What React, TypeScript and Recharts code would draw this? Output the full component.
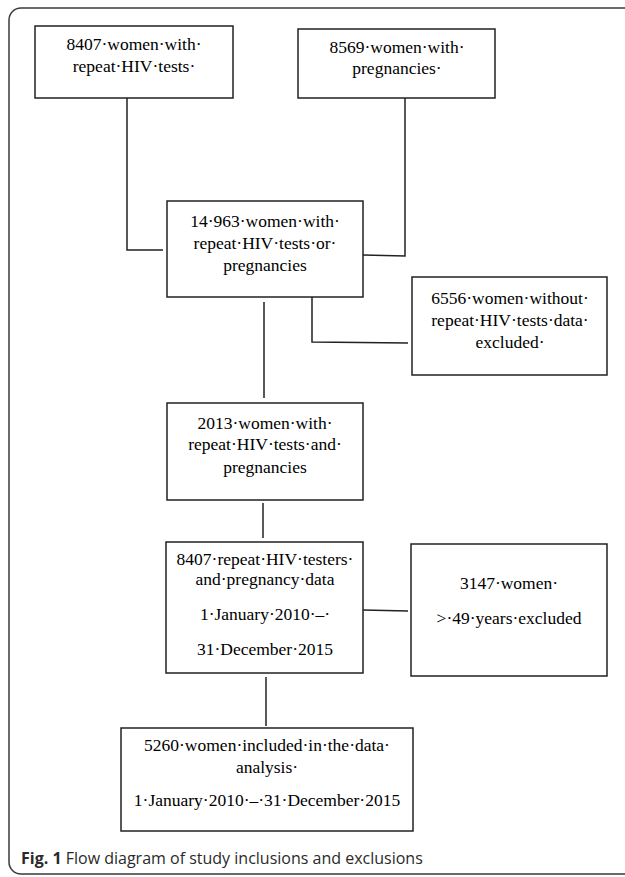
import {
  ComposedChart,
  Line,
  ReferenceArea,
  Scatter,
  XAxis,
  YAxis,
} from "recharts";

// text of each box, one string per printed line
const box1Text = ["8407·women·with·", "repeat·HIV·tests·"];
const box2Text = ["8569·women·with·", "pregnancies·"];
const box3Text = ["14·963·women·with·", "repeat·HIV·tests·or·", "pregnancies"];
const excl1Text = ["6556·women·without·", "repeat·HIV·tests·data·", "excluded·"];
const box4Text = ["2013·women·with·", "repeat·HIV·tests·and·", "pregnancies"];
const box5Text = [
  "8407·repeat·HIV·testers·",
  "and·pregnancy·data",
  "1·January·2010·–·",
  "31·December·2015",
];
const excl2Text = ["3147·women·", ">·49·years·excluded"];
const box6Text = [
  "5260·women·included·in·the·data·",
  "analysis·",
  "1·January·2010·–·31·December·2015",
];
const captionBold = "Fig. 1";
const captionText = "Flow diagram of study inclusions and exclusions";

// box outlines in diagram units (x1, x2, y1, y2)
const boxes = [
  { id: "b1", x1: 35, x2: 233, y1: 26, y2: 98 },
  { id: "b2", x1: 298, x2: 495, y1: 29, y2: 98 },
  { id: "b3", x1: 167, x2: 363, y1: 201, y2: 297 },
  { id: "e1", x1: 412, x2: 607, y1: 277, y2: 375 },
  { id: "b4", x1: 167, x2: 363, y1: 403, y2: 500 },
  { id: "b5", x1: 166, x2: 363, y1: 542, y2: 673 },
  { id: "e2", x1: 411, x2: 607, y1: 544, y2: 676 },
  { id: "b6", x1: 121, x2: 413, y1: 728, y2: 831 },
];

// line centres for the text of each box
const textRows = [
  { lines: box1Text, cx: 134, ys: [44, 66] },
  { lines: box2Text, cx: 397, ys: [47, 68] },
  { lines: box3Text, cx: 265, ys: [221, 243, 265] },
  { lines: excl1Text, cx: 510, ys: [298, 320, 342] },
  { lines: box4Text, cx: 265, ys: [423, 444, 467] },
  { lines: box5Text, cx: 265, ys: [559, 579, 614, 649] },
  { lines: excl2Text, cx: 509, ys: [583, 618] },
  { lines: box6Text, cx: 267, ys: [745, 767, 800] },
];

const connectors = [
  [{ x: 127, y: 98 }, { x: 127, y: 250 }, { x: 163, y: 250 }],
  [{ x: 405, y: 98 }, { x: 405, y: 256 }, { x: 363, y: 255 }],
  [{ x: 264, y: 302 }, { x: 264, y: 398 }],
  [{ x: 312, y: 297 }, { x: 312, y: 342 }, { x: 408, y: 343 }],
  [{ x: 263, y: 503 }, { x: 263, y: 538 }],
  [{ x: 363, y: 610 }, { x: 408, y: 611 }],
  [{ x: 266, y: 677 }, { x: 266, y: 726 }],
];

const captionPoint = [{ x: 21, y: 858 }];

const textPoints = textRows.flatMap((row) =>
  row.lines.map((t, i) => ({ x: row.cx, y: row.ys[i], text: t }))
);

const serif = "'Liberation Serif', 'Times New Roman', serif";

function BoxText(props: any) {
  const { cx, cy, payload } = props;
  return (
    <text
      x={cx}
      y={cy}
      dy="0.35em"
      textAnchor="middle"
      fontFamily={serif}
      fontSize={17.5}
      fill="#000"
    >
      {payload.text}
    </text>
  );
}

function Caption(props: any) {
  const { cx, cy } = props;
  return (
    <text
      x={cx}
      y={cy}
      dy="0.35em"
      fontFamily="'Open Sans', 'Noto Sans', sans-serif"
      fontSize={16}
      fill="#2a2a2a"
    >
      <tspan fontWeight={700}>{captionBold}</tspan>
      <tspan> {captionText}</tspan>
    </text>
  );
}

export default function App() {
  return (
    <div style={{ position: "absolute", left: 0, top: 0, background: "#fff" }}>
      <ComposedChart
        width={625}
        height={877}
        margin={{ top: 0, right: 0, bottom: 0, left: 0 }}
      >
        <XAxis type="number" dataKey="x" domain={[0, 625]} hide allowDataOverflow />
        <YAxis
          type="number"
          dataKey="y"
          domain={[0, 877]}
          reversed
          hide
          allowDataOverflow
        />
        <ReferenceArea
          x1={9}
          x2={650}
          y1={8}
          y2={874}
          radius={12}
          fill="none"
          fillOpacity={0}
          stroke="#3a3a3a"
          strokeWidth={1.5}
          ifOverflow="visible"
        />
        {connectors.map((pts, i) => (
          <Line
            key={"c" + i}
            data={pts}
            dataKey="y"
            type="linear"
            stroke="#222"
            strokeWidth={1.5}
            dot={false}
            activeDot={false}
            isAnimationActive={false}
          />
        ))}
        {boxes.map((b) => (
          <ReferenceArea
            key={b.id}
            x1={b.x1}
            x2={b.x2}
            y1={b.y1}
            y2={b.y2}
            fill="#fff"
            fillOpacity={1}
            stroke="#222"
            strokeWidth={1.5}
            ifOverflow="visible"
          />
        ))}
        <Scatter
          data={textPoints}
          dataKey="y"
          shape={BoxText}
          isAnimationActive={false}
        />
        <Scatter
          data={captionPoint}
          dataKey="y"
          shape={Caption}
          isAnimationActive={false}
        />
      </ComposedChart>
    </div>
  );
}
